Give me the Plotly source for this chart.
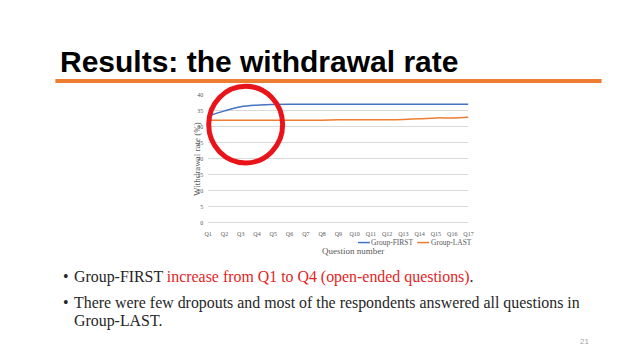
import plotly.graph_objects as go

questions = [f"Q{i}" for i in range(1, 18)]
group_first = [33.3, 34.9, 36.2, 36.7, 36.9, 37.0, 37.0, 37.0, 37.0, 37.0, 37.0, 37.0, 37.0, 37.0, 37.0, 37.0, 37.0]
group_last = [32.0, 32.0, 32.0, 32.0, 32.0, 32.0, 32.0, 32.0, 32.1, 32.1, 32.1, 32.1, 32.2, 32.4, 32.7, 32.7, 32.9]
y_ticks = [0, 5, 10, 15, 20, 25, 30, 35, 40]
series_names = ["Group-FIRST", "Group-LAST"]

W, H = 640, 360
def px(x):
    return x / W
def py(y):
    return 1 - y / H

BLUE = "#4472C4"
ORANGE = "#ED7D31"
RED = "#E31E24"
SERIF = "Liberation Serif, Times New Roman, serif"
GRAY = "#595959"
colors = [BLUE, ORANGE]

fig = go.Figure()
for name, vals, col in zip(series_names, [group_first, group_last], colors):
    fig.add_trace(go.Scatter(x=questions, y=vals, mode="lines", name=name,
                             line=dict(color=col, width=1.5, shape="spline"), showlegend=False))

fig.update_layout(
    width=W, height=H,
    margin=dict(l=0, r=0, t=0, b=0),
    paper_bgcolor="white", plot_bgcolor="white",
    xaxis=dict(domain=[px(199), px(463)], type="category", showgrid=False,
               showline=True, linecolor="#D9D9D9", linewidth=1, ticks="",
               tickfont=dict(family=SERIF, size=6, color=GRAY), ticklabelstandoff=5),
    yaxis=dict(domain=[py(215), py(85)], range=[0, 40], tickvals=y_ticks,
               showgrid=True, gridcolor="#D9D9D9", gridwidth=1, zeroline=False,
               showline=False, ticks="",
               tickfont=dict(family=SERIF, size=6, color=GRAY), ticklabelstandoff=4),
    showlegend=False,
)

# Compact legend (Excel style short line samples)
leg_y = 235.5
leg_items = [(351, series_names[0], BLUE), (411, series_names[1], ORANGE)]
for x0, name, col in leg_items:
    fig.add_shape(type="line", xref="paper", yref="paper", x0=px(x0), x1=px(x0 + 12),
                  y0=py(leg_y), y1=py(leg_y), line=dict(color=col, width=1.5))
    fig.add_annotation(x=px(x0 + 12.5), y=py(leg_y), xref="paper", yref="paper", xanchor="left",
                       yanchor="middle", text=name, showarrow=False, borderpad=0,
                       font=dict(family=SERIF, size=7.5, color=GRAY))

# Title
fig.add_annotation(x=px(47), y=py(51), xref="paper", yref="paper", xanchor="left", yanchor="middle",
                   text="<b>Results: the withdrawal rate</b>", showarrow=False,
                   font=dict(family="Liberation Sans, Arial, sans-serif", size=30, color="black"))
# Orange rule
fig.add_shape(type="line", xref="paper", yref="paper", x0=px(44), x1=px(598), y0=py(71.3), y1=py(71.3),
              line=dict(color=ORANGE, width=4))

# Axis titles
fig.add_annotation(x=px(180), y=py(150), xref="paper", yref="paper", text="Withdrawal rate (%)",
                   textangle=-90, showarrow=False, font=dict(family=SERIF, size=9, color=GRAY))
fig.add_annotation(x=px(346), y=py(250.5), xref="paper", yref="paper", text="Question number",
                   showarrow=False, borderpad=0, font=dict(family=SERIF, size=9, color=GRAY))

# Red circle highlight
fig.add_shape(type="circle", xref="paper", yref="paper", x0=px(199.5), x1=px(274.5),
              y0=py(154.5), y1=py(76.5), line=dict(color="#E8141A", width=5))

# Bullets
BF = 15.9
for yy in (270.5, 296.5):
    fig.add_annotation(x=px(50), y=py(yy), xref="paper", yref="paper", xanchor="left", yanchor="middle",
                       text="•", showarrow=False, font=dict(family=SERIF, size=BF, color="#262626"))
fig.add_annotation(x=px(61), y=py(270.5), xref="paper", yref="paper", xanchor="left", yanchor="middle",
                   text=f"Group-FIRST <span style='color:{RED}'>increase from Q1 to Q4 (open-ended questions)</span>.",
                   showarrow=False, font=dict(family=SERIF, size=BF, color="#262626"))
fig.add_annotation(x=px(61), y=py(296.5), xref="paper", yref="paper", xanchor="left", yanchor="middle",
                   text="There were few dropouts and most of the respondents answered all questions in",
                   showarrow=False, font=dict(family=SERIF, size=BF, color="#262626"))
fig.add_annotation(x=px(61), y=py(315.5), xref="paper", yref="paper", xanchor="left", yanchor="middle",
                   text="Group-LAST.",
                   showarrow=False, font=dict(family=SERIF, size=BF, color="#262626"))

# Page number
fig.add_annotation(x=px(587), y=py(343), xref="paper", yref="paper", text="21", showarrow=False,
                   font=dict(family="Liberation Sans, Arial, sans-serif", size=8, color="#A6A6A6"))

fig.write_html("out.html")
